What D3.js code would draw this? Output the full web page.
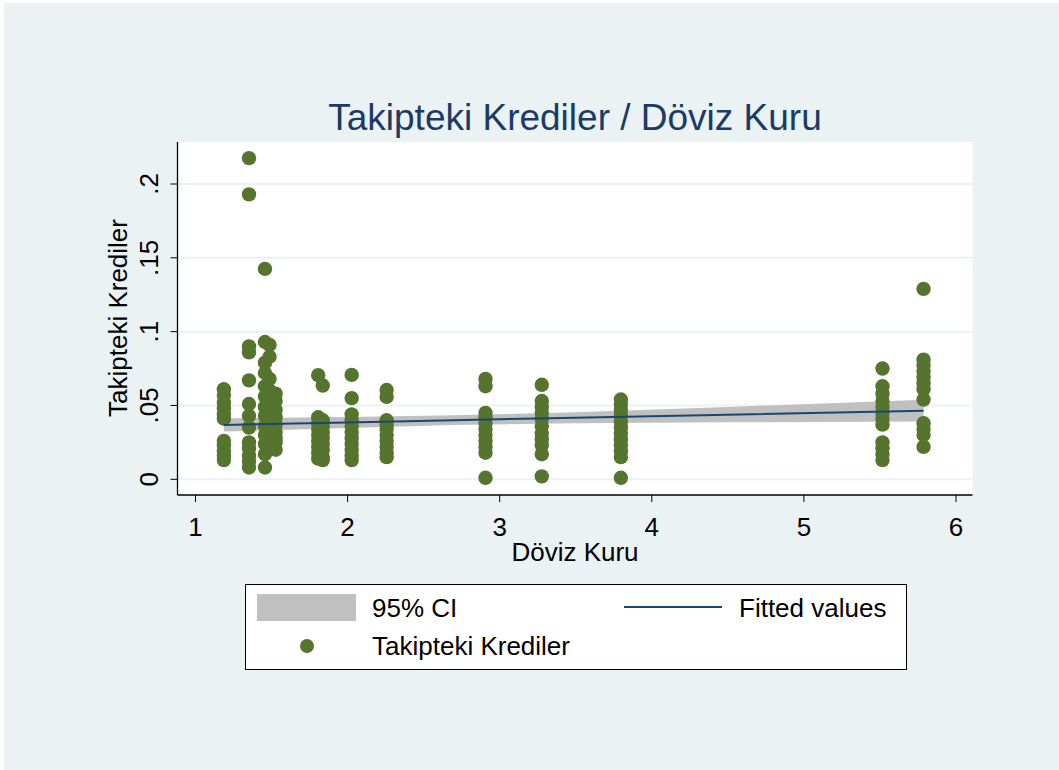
<!DOCTYPE html>
<meta charset="utf-8">
<style>
  body { margin: 0; background: #fff; }
  text { font-family: "Liberation Sans", Arial, sans-serif; }
</style>
<svg width="1059" height="770"></svg>
<script src="https://cdn.jsdelivr.net/npm/d3@7"></script>
<script>

// exchange rate of each group (x) and the NPL ratios observed at it (y)
var kurX = [1.19, 1.355, 1.46, 1.49, 1.53, 1.81, 1.84, 2.03, 2.26, 2.91, 3.28, 3.80, 5.52, 5.79];
var krediY = [
  [0.061, 0.057, 0.052, 0.048, 0.044, 0.041, 0.026, 0.023, 0.019, 0.016, 0.013],
  [0.2175, 0.193, 0.090, 0.086, 0.067, 0.051, 0.043, 0.035, 0.025, 0.021, 0.016, 0.012, 0.008],
  [0.1425, 0.093, 0.079, 0.072, 0.063, 0.056, 0.049, 0.043, 0.036, 0.030, 0.024, 0.017, 0.008],
  [0.091, 0.083, 0.068, 0.060, 0.052, 0.045, 0.039, 0.033, 0.027, 0.021],
  [0.058, 0.053, 0.047, 0.042, 0.037, 0.032, 0.028, 0.025, 0.020],
  [0.0705, 0.042, 0.038, 0.034, 0.030, 0.026, 0.022, 0.018, 0.014],
  [0.0635, 0.040, 0.036, 0.032, 0.028, 0.024, 0.020, 0.015, 0.013],
  [0.0707, 0.055, 0.044, 0.040, 0.036, 0.032, 0.028, 0.024, 0.020, 0.016, 0.013],
  [0.0605, 0.0558, 0.040, 0.037, 0.034, 0.030, 0.026, 0.022, 0.018, 0.015],
  [0.068, 0.063, 0.045, 0.042, 0.038, 0.034, 0.030, 0.026, 0.022, 0.018, 0.001],
  [0.064, 0.053, 0.049, 0.045, 0.041, 0.036, 0.031, 0.027, 0.023, 0.017, 0.002],
  [0.054, 0.051, 0.047, 0.043, 0.039, 0.035, 0.031, 0.027, 0.023, 0.019, 0.015, 0.001],
  [0.075, 0.063, 0.058, 0.053, 0.049, 0.045, 0.041, 0.037, 0.025, 0.021, 0.017, 0.013],
  [0.129, 0.081, 0.077, 0.073, 0.069, 0.065, 0.061, 0.054, 0.038, 0.034, 0.030, 0.022]
];

// fitted line and 95% CI
var fitX  = [1.19, 2.0, 2.7, 3.5, 4.5, 5.79];
var fitY  = [0.0368, 0.0385, 0.0400, 0.0417, 0.0438, 0.0465];
var ciLo  = [0.0323, 0.0348, 0.0367, 0.0380, 0.0386, 0.0391];
var ciHi  = [0.0413, 0.0422, 0.0433, 0.0454, 0.0490, 0.0539];

var xTicks = [1, 2, 3, 4, 5, 6];
var yTicks = [0, 0.05, 0.1, 0.15, 0.2];
var yTickLabels = ["0", ".05", ".1", ".15", ".2"];

var green = "#55752f", navy = "#1a476f", band = "#c0c0c0", bg = "#eaf2f3";
var fs = 26;

var svg = d3.select("svg");

svg.append("rect").attr("x", 4).attr("y", 3).attr("width", 1055).attr("height", 767).attr("fill", bg);

var pLeft = 177.5, pRight = 972.5, pTop = 142, pBottom = 495;

var x = d3.scaleLinear().domain([1, 6]).range([195, 955.5]);
var y = d3.scaleLinear().domain([0, 0.2]).range([479.3, 184]);

svg.append("rect").attr("x", pLeft).attr("y", pTop)
  .attr("width", pRight - pLeft).attr("height", pBottom - pTop).attr("fill", "#fff");

// grid
svg.append("g").selectAll("line").data(yTicks).join("line")
  .attr("x1", pLeft).attr("x2", pRight)
  .attr("y1", d => y(d)).attr("y2", d => y(d))
  .attr("stroke", bg).attr("stroke-width", 2);

// CI band
var fitRows = fitX.map((d, i) => ({x: d, y: fitY[i], lo: ciLo[i], hi: ciHi[i]}));
svg.append("path").datum(fitRows)
  .attr("fill", band)
  .attr("d", d3.area().x(d => x(d.x)).y0(d => y(d.lo)).y1(d => y(d.hi)));

// points
var pts = [];
kurX.forEach((k, i) => krediY[i].forEach(v => pts.push({x: k, y: v})));
svg.append("g").selectAll("circle").data(pts).join("circle")
  .attr("cx", d => x(d.x)).attr("cy", d => y(d.y)).attr("r", 7.2)
  .attr("fill", green);

// fitted line
svg.append("path").datum(fitRows)
  .attr("fill", "none").attr("stroke", navy).attr("stroke-width", 2)
  .attr("d", d3.line().x(d => x(d.x)).y(d => y(d.y)));

// axes
var xAxis = svg.append("g").attr("transform", "translate(0," + pBottom + ")")
  .call(d3.axisBottom(x).tickValues(xTicks).tickFormat(d3.format("d")).tickSize(7).tickSizeOuter(0));
xAxis.select(".domain").remove();
xAxis.selectAll("text").attr("y", 41).attr("dy", 0).attr("font-size", fs).attr("fill", "#000")
  .style("font-family", "'Liberation Sans', Arial, sans-serif");

var yAxis = svg.append("g").attr("transform", "translate(" + pLeft + ",0)")
  .call(d3.axisLeft(y).tickValues(yTicks).tickFormat((d, i) => yTickLabels[i]).tickSize(7).tickSizeOuter(0));
yAxis.select(".domain").remove();
yAxis.selectAll(".tick").attr("transform", d => "translate(0," + y(d) + ")");
yAxis.selectAll(".tick text")
  .attr("x", null).attr("dy", 0).attr("y", 0)
  .attr("transform", "translate(-20,0) rotate(-90)")
  .attr("text-anchor", "middle")
  .attr("font-size", fs).attr("fill", "#000")
  .style("font-family", "'Liberation Sans', Arial, sans-serif");

svg.append("line").attr("x1", pLeft).attr("x2", pRight).attr("y1", pBottom).attr("y2", pBottom)
  .attr("stroke", "#000").attr("stroke-width", 1.3);
svg.append("line").attr("x1", pLeft).attr("x2", pLeft).attr("y1", pTop).attr("y2", pBottom)
  .attr("stroke", "#000").attr("stroke-width", 1.3);

// titles
svg.append("text").attr("x", 575).attr("y", 130).attr("text-anchor", "middle")
  .attr("font-size", 37).attr("fill", "#1c3a66").text("Takipteki Krediler / Döviz Kuru");

svg.append("text").attr("x", 575).attr("y", 561).attr("text-anchor", "middle")
  .attr("font-size", fs).attr("fill", "#000").text("Döviz Kuru");

svg.append("text").attr("transform", "translate(127,318) rotate(-90)")
  .attr("text-anchor", "middle").attr("font-size", fs).attr("fill", "#000").text("Takipteki Krediler");

// legend
var lg = svg.append("g").attr("font-size", fs);
lg.append("rect").attr("x", 245.5).attr("y", 584.5).attr("width", 661).attr("height", 85)
  .attr("fill", "#fff").attr("stroke", "#000").attr("stroke-width", 1);
lg.append("rect").attr("x", 257).attr("y", 594).attr("width", 99).attr("height", 27).attr("fill", band);
lg.append("text").attr("x", 372).attr("y", 617).text("95% CI");
lg.append("line").attr("x1", 624).attr("x2", 722).attr("y1", 607).attr("y2", 607)
  .attr("stroke", navy).attr("stroke-width", 2);
lg.append("text").attr("x", 739).attr("y", 617).text("Fitted values");
lg.append("circle").attr("cx", 307).attr("cy", 646).attr("r", 7).attr("fill", green);
lg.append("text").attr("x", 372).attr("y", 655).text("Takipteki Krediler");

</script>
